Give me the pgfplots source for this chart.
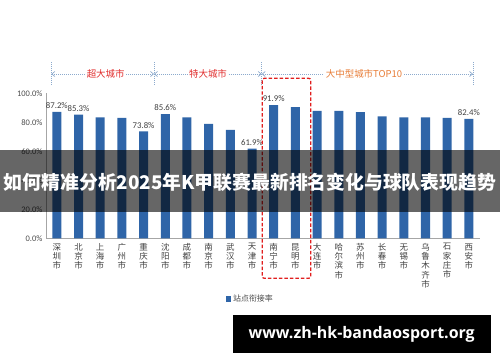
\documentclass[border=0pt]{standalone}
\usepackage{pgfplots}
\pgfplotsset{compat=1.18}
\usepackage{fontspec}
\setmainfont{Carlito}
\newfontfamily\cjk{Noto Sans CJK SC}
\newfontfamily\web{Open Sans}
\usetikzlibrary{arrows.meta}
\definecolor{barblue}{RGB}{47,101,168}
\definecolor{annot}{RGB}{140,170,205}
\definecolor{annred}{RGB}{225,45,45}
\definecolor{annorange}{RGB}{232,125,55}
\definecolor{boxred}{RGB}{225,30,30}
\pgfplotstableread{
x y
0 87.2
1 85.3
2 83.4
3 83.0
4 73.8
5 85.6
6 83.4
7 79.0
8 74.7
9 61.9
10 91.9
11 90.5
12 87.8
13 87.8
14 87.1
15 84.1
16 83.4
17 83.4
18 83.0
19 82.4
}\ratedata
\begin{document}
\begin{tikzpicture}[x=1bp,y=1bp]
\useasboundingbox (0,0) rectangle (500,-362);
\begin{axis}[
  at={(46bp,-238.3bp)}, anchor=south west,
  scale only axis, width=433.7bp, height=145bp,
  xmin=-0.5, xmax=19.5, ymin=0, ymax=100,
  axis x line*=bottom, axis y line*=left,
  axis line style={draw=black!35, line width=0.6pt},
  major tick length=0pt,
  /pgf/number format/assume math mode=true,
  ytick={0,20,...,100},
  yticklabel={\pgfmathprintnumber[fixed,fixed zerofill,precision=1]{\tick}\%},
  yticklabel style={font=\fontsize{8.5}{10}\selectfont, text=black!70},
  xtick={0,...,19},
  xticklabels={{深\\圳\\市},{北\\京\\市},{上\\海\\市},{广\\州\\市},{重\\庆\\市},{沈\\阳\\市},{成\\都\\市},{南\\京\\市},{武\\汉\\市},{天\\津\\市},{南\\宁\\市},{昆\\明\\市},{大\\连\\市},{哈\\尔\\滨\\市},{苏\\州\\市},{长\\春\\市},{无\\锡\\市},{乌\\鲁\\木\\齐\\市},{石\\家\\庄\\市},{西\\安\\市}},
  xticklabel style={font=\cjk\fontsize{8.5}{9.2}\selectfont, align=center, text=black!75, anchor=north, inner sep=1pt, yshift=-4bp},
  legend style={at={(0.412,-0.419)}, anchor=west, draw=none, fill=none, font=\cjk\fontsize{8}{9}\selectfont, text=black!70, inner sep=1pt},
  legend cell align=left,
  clip=false,
]
\addplot[ybar, bar width=9bp, fill=barblue, draw=none,
  legend image code/.code={\fill[barblue] (0bp,-2.6bp) rectangle (5.2bp,2.6bp);}]
  table[x=x,y=y] {\ratedata};
\addlegendentry{站点衔接率}
\addplot[draw=none, mark=none, forget plot,
  point meta=y,
  nodes near coords={\pgfmathprintnumber[fixed,fixed zerofill,precision=1]{\pgfplotspointmeta}\%},
  nodes near coords style={font=\fontsize{8.8}{10}\selectfont, text=black!75, anchor=south, inner sep=1pt, yshift=2bp}]
  coordinates {(0,87.2) (1,85.3) (4,73.8) (5,85.6) (9,61.9) (10,91.9) (19,82.4)};
\end{axis}
% group annotations
\foreach \xx in {51.3,154,261.7,473} {
  \draw[annot, line width=0.7pt, dash pattern=on 1pt off 1pt] (\xx,-62) -- (\xx,-85);
}
\draw[annot, line width=0.7pt, dash pattern=on 1pt off 1pt, {Straight Barb[length=3pt,width=5pt]}-{Straight Barb[length=3pt,width=5pt]}] (51.3,-74) -- (154,-74);
\draw[annot, line width=0.7pt, dash pattern=on 1pt off 1pt, {Straight Barb[length=3pt,width=5pt]}-{Straight Barb[length=3pt,width=5pt]}] (154,-74) -- (261.7,-74);
\draw[annot, line width=0.7pt, dash pattern=on 1pt off 1pt, {Straight Barb[length=3pt,width=5pt]}-{Straight Barb[length=3pt,width=5pt]}] (261.7,-74) -- (473,-74);
\node[fill=white, inner sep=1.5pt, text=annred, font=\cjk\fontsize{9.5}{11}\selectfont] at (105.7,-74) {超大城市};
\node[fill=white, inner sep=1.5pt, text=annred, font=\cjk\fontsize{9.5}{11}\selectfont] at (208,-74) {特大城市};
\node[fill=white, inner sep=1.5pt, text=annorange, font=\cjk\fontsize{9.5}{11}\selectfont] at (364,-74) {大中型城市TOP10};
% red dashed box
\draw[boxred, line width=1.3pt, dash pattern=on 3.5pt off 2pt, rounded corners=2pt] (262.3,-78.3) rectangle (310.7,-278.3);
% overlay band
\fill[black, opacity=0.6] (0,-150) rectangle (500,-212);
\node[text=white, font=\cjk\bfseries\fontsize{18.9}{22}\selectfont, inner sep=0pt] at (250,-182) {如何精准分析2025年K甲联赛最新排名变化与球队表现趋势};
% watermark
\fill[black] (232.7,-315) rectangle (490.7,-352.7);
\node[text=white, font=\web\bfseries\fontsize{16}{18}\selectfont, inner sep=0pt] at (361.7,-334) {www.zh-hk-bandaosport.org};
\end{tikzpicture}
\end{document}
